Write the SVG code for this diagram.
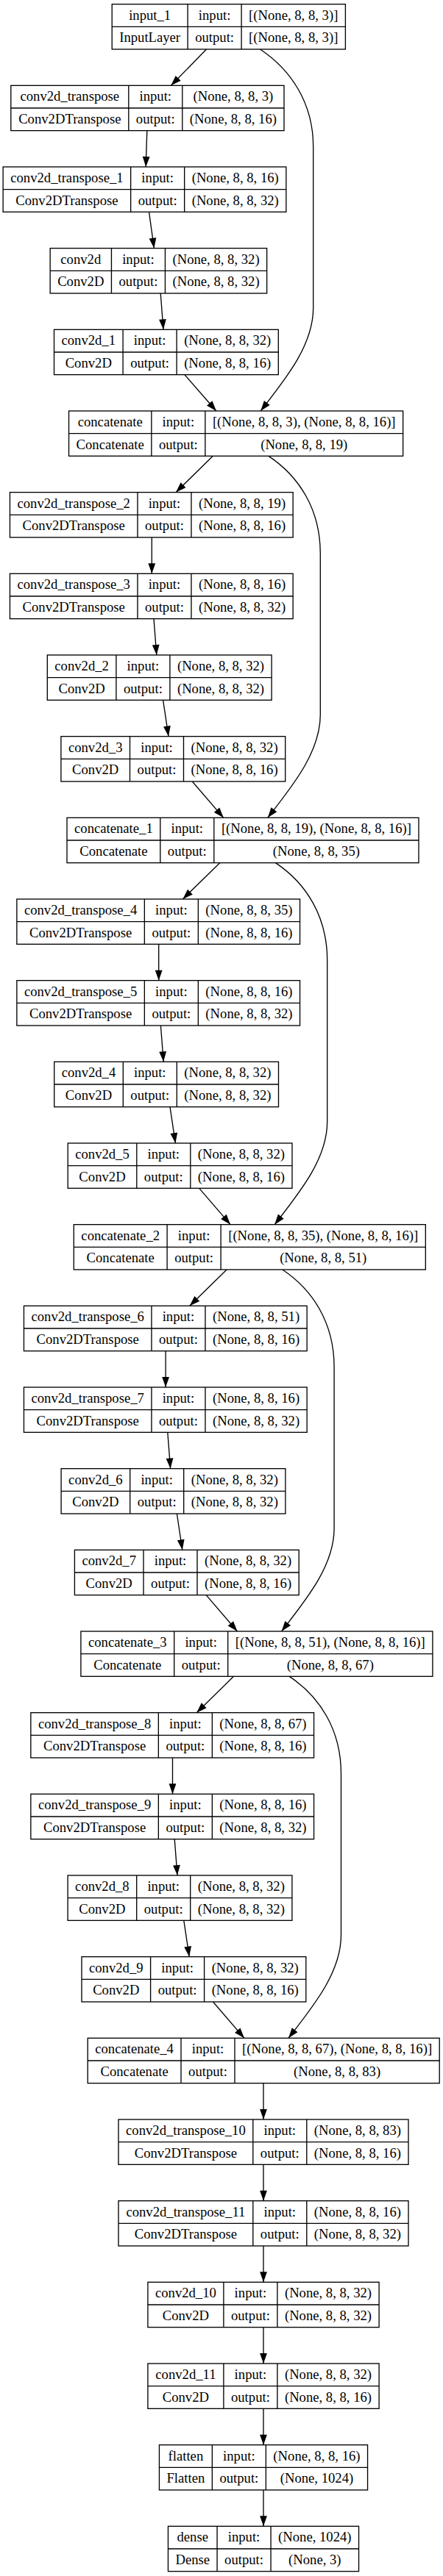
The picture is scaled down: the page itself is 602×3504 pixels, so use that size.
<svg xmlns="http://www.w3.org/2000/svg" width="602" height="3504" viewBox="0 0 602 3504">
<style>
.b{fill:#fff;stroke:#000;stroke-width:1.33}
.g{fill:none;stroke:#000;stroke-width:1.33}
text{font-family:"Liberation Serif","Times New Roman",serif;font-size:18.67px;text-anchor:middle;fill:#000}
.e{fill:none;stroke:#000;stroke-width:1.33;marker-end:url(#arr)}
</style>
<defs>
<marker id="arr" markerUnits="userSpaceOnUse" markerWidth="14" markerHeight="10" refX="13.33" refY="4.67" orient="auto" viewBox="0 0 13.33 9.33" overflow="visible"><path d="M0,0 L13.33,4.67 L0,9.33 z" fill="#000"/></marker>
</defs>
<rect width="602" height="3504" fill="#fff"/>
<g id="connectors">
<path class="e" d="M280.5,67 L232.4,116.33"/>
<path class="e" d="M199.8,177.67 L198.2,227"/>
<path class="e" d="M202.5,288.33 L209.4,337.67"/>
<path class="e" d="M218.2,399 L222,448.33"/>
<path class="e" d="M250.9,509.67 L293.9,559"/>
<path class="e" d="M353.5,67 C395,94.7 425.7,139.7 425.7,199.7 L425.7,419 C425.7,469 389.2,514 354.2,559"/>
<path class="e" d="M289.3,620.33 L239,669.67"/>
<path class="e" d="M206.3,731 L206.3,780.33"/>
<path class="e" d="M209,841.67 L212.8,891"/>
<path class="e" d="M221.6,952.33 L229,1001.67"/>
<path class="e" d="M261.3,1063 L303.7,1112.33"/>
<path class="e" d="M365,620.33 C406.5,648 435.3,693 435.3,753 L435.3,972.33 C435.3,1022.33 398.8,1067.33 363.8,1112.33"/>
<path class="e" d="M298.7,1173.67 L248.4,1223"/>
<path class="e" d="M215.7,1284.33 L215.7,1333.67"/>
<path class="e" d="M218.4,1395 L222.2,1444.33"/>
<path class="e" d="M231,1505.67 L238.4,1555"/>
<path class="e" d="M270.7,1616.33 L313.1,1665.67"/>
<path class="e" d="M374.4,1173.67 C415.9,1201.37 444.7,1246.37 444.7,1306.37 L444.7,1525.67 C444.7,1575.67 408.2,1620.67 373.2,1665.67"/>
<path class="e" d="M308.1,1727 L257.8,1776.33"/>
<path class="e" d="M225.1,1837.67 L225.1,1887"/>
<path class="e" d="M227.8,1948.33 L231.6,1997.67"/>
<path class="e" d="M240.4,2059 L247.8,2108.33"/>
<path class="e" d="M280.1,2169.67 L322.5,2219"/>
<path class="e" d="M383.8,1727 C425.3,1754.7 454.1,1799.7 454.1,1859.7 L454.1,2079 C454.1,2129 417.6,2174 382.6,2219"/>
<path class="e" d="M317.5,2280.33 L267.2,2329.67"/>
<path class="e" d="M234.5,2391 L234.5,2440.33"/>
<path class="e" d="M237.2,2501.67 L241,2551"/>
<path class="e" d="M249.8,2612.33 L257.2,2661.67"/>
<path class="e" d="M289.5,2723 L331.9,2772.33"/>
<path class="e" d="M393.2,2280.33 C434.7,2308 463.5,2353 463.5,2413 L463.5,2632.33 C463.5,2682.33 427,2727.33 392,2772.33"/>
<path class="e" d="M358,2833.67 L358,2883"/>
<path class="e" d="M358,2944.33 L358,2993.67"/>
<path class="e" d="M358,3055 L358,3104.33"/>
<path class="e" d="M358,3165.67 L358,3215"/>
<path class="e" d="M358,3276.33 L358,3325.67"/>
<path class="e" d="M358,3387 L358,3436.33"/>
</g>
<g id="input_1" transform="translate(152.2,5.67)"><rect class="b" width="317.2" height="61.33"/><path class="g" d="M0,30.67H317.2M102.9,0V61.33M175.9,0V61.33"/><text x="51.45" y="21">input_1</text><text x="139.4" y="21">input:</text><text x="246.55" y="21">[(None, 8, 8, 3)]</text><text x="51.45" y="51.67">InputLayer</text><text x="139.4" y="51.67">output:</text><text x="246.55" y="51.67">[(None, 8, 8, 3)]</text></g>
<g id="conv2d_transpose" transform="translate(14.8,116.33)"><rect class="b" width="371.2" height="61.33"/><path class="g" d="M0,30.67H371.2M160,0V61.33M233,0V61.33"/><text x="80" y="21">conv2d_transpose</text><text x="196.5" y="21">input:</text><text x="302.1" y="21">(None, 8, 8, 3)</text><text x="80" y="51.67">Conv2DTranspose</text><text x="196.5" y="51.67">output:</text><text x="302.1" y="51.67">(None, 8, 8, 16)</text></g>
<g id="conv2d_transpose_1" transform="translate(4.15,227)"><rect class="b" width="384.7" height="61.33"/><path class="g" d="M0,30.67H384.7M173.5,0V61.33M246.5,0V61.33"/><text x="86.75" y="21">conv2d_transpose_1</text><text x="210" y="21">input:</text><text x="315.6" y="21">(None, 8, 8, 16)</text><text x="86.75" y="51.67">Conv2DTranspose</text><text x="210" y="51.67">output:</text><text x="315.6" y="51.67">(None, 8, 8, 32)</text></g>
<g id="conv2d" transform="translate(68.15,337.67)"><rect class="b" width="294.5" height="61.33"/><path class="g" d="M0,30.67H294.5M83.3,0V61.33M156.3,0V61.33"/><text x="41.65" y="21">conv2d</text><text x="119.8" y="21">input:</text><text x="225.4" y="21">(None, 8, 8, 32)</text><text x="41.65" y="51.67">Conv2D</text><text x="119.8" y="51.67">output:</text><text x="225.4" y="51.67">(None, 8, 8, 32)</text></g>
<g id="conv2d_1" transform="translate(73.5,448.33)"><rect class="b" width="304.8" height="61.33"/><path class="g" d="M0,30.67H304.8M93.6,0V61.33M166.6,0V61.33"/><text x="46.8" y="21">conv2d_1</text><text x="130.1" y="21">input:</text><text x="235.7" y="21">(None, 8, 8, 32)</text><text x="46.8" y="51.67">Conv2D</text><text x="130.1" y="51.67">output:</text><text x="235.7" y="51.67">(None, 8, 8, 16)</text></g>
<g id="concatenate" transform="translate(93.55,559)"><rect class="b" width="454.1" height="61.33"/><path class="g" d="M0,30.67H454.1M112.3,0V61.33M185.3,0V61.33"/><text x="56.15" y="21">concatenate</text><text x="148.8" y="21">input:</text><text x="319.7" y="21">[(None, 8, 8, 3), (None, 8, 8, 16)]</text><text x="56.15" y="51.67">Concatenate</text><text x="148.8" y="51.67">output:</text><text x="319.7" y="51.67">(None, 8, 8, 19)</text></g>
<g id="conv2d_transpose_2" transform="translate(13.45,669.67)"><rect class="b" width="384.7" height="61.33"/><path class="g" d="M0,30.67H384.7M173.5,0V61.33M246.5,0V61.33"/><text x="86.75" y="21">conv2d_transpose_2</text><text x="210" y="21">input:</text><text x="315.6" y="21">(None, 8, 8, 19)</text><text x="86.75" y="51.67">Conv2DTranspose</text><text x="210" y="51.67">output:</text><text x="315.6" y="51.67">(None, 8, 8, 16)</text></g>
<g id="conv2d_transpose_3" transform="translate(13.45,780.33)"><rect class="b" width="384.7" height="61.33"/><path class="g" d="M0,30.67H384.7M173.5,0V61.33M246.5,0V61.33"/><text x="86.75" y="21">conv2d_transpose_3</text><text x="210" y="21">input:</text><text x="315.6" y="21">(None, 8, 8, 16)</text><text x="86.75" y="51.67">Conv2DTranspose</text><text x="210" y="51.67">output:</text><text x="315.6" y="51.67">(None, 8, 8, 32)</text></g>
<g id="conv2d_2" transform="translate(64.3,891)"><rect class="b" width="304.8" height="61.33"/><path class="g" d="M0,30.67H304.8M93.6,0V61.33M166.6,0V61.33"/><text x="46.8" y="21">conv2d_2</text><text x="130.1" y="21">input:</text><text x="235.7" y="21">(None, 8, 8, 32)</text><text x="46.8" y="51.67">Conv2D</text><text x="130.1" y="51.67">output:</text><text x="235.7" y="51.67">(None, 8, 8, 32)</text></g>
<g id="conv2d_3" transform="translate(82.9,1001.67)"><rect class="b" width="304.8" height="61.33"/><path class="g" d="M0,30.67H304.8M93.6,0V61.33M166.6,0V61.33"/><text x="46.8" y="21">conv2d_3</text><text x="130.1" y="21">input:</text><text x="235.7" y="21">(None, 8, 8, 32)</text><text x="46.8" y="51.67">Conv2D</text><text x="130.1" y="51.67">output:</text><text x="235.7" y="51.67">(None, 8, 8, 16)</text></g>
<g id="concatenate_1" transform="translate(91,1112.33)"><rect class="b" width="478" height="61.33"/><path class="g" d="M0,30.67H478M126.8,0V61.33M199.8,0V61.33"/><text x="63.4" y="21">concatenate_1</text><text x="163.3" y="21">input:</text><text x="338.9" y="21">[(None, 8, 8, 19), (None, 8, 8, 16)]</text><text x="63.4" y="51.67">Concatenate</text><text x="163.3" y="51.67">output:</text><text x="338.9" y="51.67">(None, 8, 8, 35)</text></g>
<g id="conv2d_transpose_4" transform="translate(22.85,1223)"><rect class="b" width="384.7" height="61.33"/><path class="g" d="M0,30.67H384.7M173.5,0V61.33M246.5,0V61.33"/><text x="86.75" y="21">conv2d_transpose_4</text><text x="210" y="21">input:</text><text x="315.6" y="21">(None, 8, 8, 35)</text><text x="86.75" y="51.67">Conv2DTranspose</text><text x="210" y="51.67">output:</text><text x="315.6" y="51.67">(None, 8, 8, 16)</text></g>
<g id="conv2d_transpose_5" transform="translate(22.85,1333.67)"><rect class="b" width="384.7" height="61.33"/><path class="g" d="M0,30.67H384.7M173.5,0V61.33M246.5,0V61.33"/><text x="86.75" y="21">conv2d_transpose_5</text><text x="210" y="21">input:</text><text x="315.6" y="21">(None, 8, 8, 16)</text><text x="86.75" y="51.67">Conv2DTranspose</text><text x="210" y="51.67">output:</text><text x="315.6" y="51.67">(None, 8, 8, 32)</text></g>
<g id="conv2d_4" transform="translate(73.7,1444.33)"><rect class="b" width="304.8" height="61.33"/><path class="g" d="M0,30.67H304.8M93.6,0V61.33M166.6,0V61.33"/><text x="46.8" y="21">conv2d_4</text><text x="130.1" y="21">input:</text><text x="235.7" y="21">(None, 8, 8, 32)</text><text x="46.8" y="51.67">Conv2D</text><text x="130.1" y="51.67">output:</text><text x="235.7" y="51.67">(None, 8, 8, 32)</text></g>
<g id="conv2d_5" transform="translate(92.2,1555)"><rect class="b" width="304.8" height="61.33"/><path class="g" d="M0,30.67H304.8M93.6,0V61.33M166.6,0V61.33"/><text x="46.8" y="21">conv2d_5</text><text x="130.1" y="21">input:</text><text x="235.7" y="21">(None, 8, 8, 32)</text><text x="46.8" y="51.67">Conv2D</text><text x="130.1" y="51.67">output:</text><text x="235.7" y="51.67">(None, 8, 8, 16)</text></g>
<g id="concatenate_2" transform="translate(100.3,1665.67)"><rect class="b" width="478" height="61.33"/><path class="g" d="M0,30.67H478M126.8,0V61.33M199.8,0V61.33"/><text x="63.4" y="21">concatenate_2</text><text x="163.3" y="21">input:</text><text x="338.9" y="21">[(None, 8, 8, 35), (None, 8, 8, 16)]</text><text x="63.4" y="51.67">Concatenate</text><text x="163.3" y="51.67">output:</text><text x="338.9" y="51.67">(None, 8, 8, 51)</text></g>
<g id="conv2d_transpose_6" transform="translate(32.45,1776.33)"><rect class="b" width="384.7" height="61.33"/><path class="g" d="M0,30.67H384.7M173.5,0V61.33M246.5,0V61.33"/><text x="86.75" y="21">conv2d_transpose_6</text><text x="210" y="21">input:</text><text x="315.6" y="21">(None, 8, 8, 51)</text><text x="86.75" y="51.67">Conv2DTranspose</text><text x="210" y="51.67">output:</text><text x="315.6" y="51.67">(None, 8, 8, 16)</text></g>
<g id="conv2d_transpose_7" transform="translate(32.45,1887)"><rect class="b" width="384.7" height="61.33"/><path class="g" d="M0,30.67H384.7M173.5,0V61.33M246.5,0V61.33"/><text x="86.75" y="21">conv2d_transpose_7</text><text x="210" y="21">input:</text><text x="315.6" y="21">(None, 8, 8, 16)</text><text x="86.75" y="51.67">Conv2DTranspose</text><text x="210" y="51.67">output:</text><text x="315.6" y="51.67">(None, 8, 8, 32)</text></g>
<g id="conv2d_6" transform="translate(83.1,1997.67)"><rect class="b" width="304.8" height="61.33"/><path class="g" d="M0,30.67H304.8M93.6,0V61.33M166.6,0V61.33"/><text x="46.8" y="21">conv2d_6</text><text x="130.1" y="21">input:</text><text x="235.7" y="21">(None, 8, 8, 32)</text><text x="46.8" y="51.67">Conv2D</text><text x="130.1" y="51.67">output:</text><text x="235.7" y="51.67">(None, 8, 8, 32)</text></g>
<g id="conv2d_7" transform="translate(101.4,2108.33)"><rect class="b" width="304.8" height="61.33"/><path class="g" d="M0,30.67H304.8M93.6,0V61.33M166.6,0V61.33"/><text x="46.8" y="21">conv2d_7</text><text x="130.1" y="21">input:</text><text x="235.7" y="21">(None, 8, 8, 32)</text><text x="46.8" y="51.67">Conv2D</text><text x="130.1" y="51.67">output:</text><text x="235.7" y="51.67">(None, 8, 8, 16)</text></g>
<g id="concatenate_3" transform="translate(109.9,2219)"><rect class="b" width="478" height="61.33"/><path class="g" d="M0,30.67H478M126.8,0V61.33M199.8,0V61.33"/><text x="63.4" y="21">concatenate_3</text><text x="163.3" y="21">input:</text><text x="338.9" y="21">[(None, 8, 8, 51), (None, 8, 8, 16)]</text><text x="63.4" y="51.67">Concatenate</text><text x="163.3" y="51.67">output:</text><text x="338.9" y="51.67">(None, 8, 8, 67)</text></g>
<g id="conv2d_transpose_8" transform="translate(41.85,2329.67)"><rect class="b" width="384.7" height="61.33"/><path class="g" d="M0,30.67H384.7M173.5,0V61.33M246.5,0V61.33"/><text x="86.75" y="21">conv2d_transpose_8</text><text x="210" y="21">input:</text><text x="315.6" y="21">(None, 8, 8, 67)</text><text x="86.75" y="51.67">Conv2DTranspose</text><text x="210" y="51.67">output:</text><text x="315.6" y="51.67">(None, 8, 8, 16)</text></g>
<g id="conv2d_transpose_9" transform="translate(41.85,2440.33)"><rect class="b" width="384.7" height="61.33"/><path class="g" d="M0,30.67H384.7M173.5,0V61.33M246.5,0V61.33"/><text x="86.75" y="21">conv2d_transpose_9</text><text x="210" y="21">input:</text><text x="315.6" y="21">(None, 8, 8, 16)</text><text x="86.75" y="51.67">Conv2DTranspose</text><text x="210" y="51.67">output:</text><text x="315.6" y="51.67">(None, 8, 8, 32)</text></g>
<g id="conv2d_8" transform="translate(92.1,2551)"><rect class="b" width="304.8" height="61.33"/><path class="g" d="M0,30.67H304.8M93.6,0V61.33M166.6,0V61.33"/><text x="46.8" y="21">conv2d_8</text><text x="130.1" y="21">input:</text><text x="235.7" y="21">(None, 8, 8, 32)</text><text x="46.8" y="51.67">Conv2D</text><text x="130.1" y="51.67">output:</text><text x="235.7" y="51.67">(None, 8, 8, 32)</text></g>
<g id="conv2d_9" transform="translate(111,2661.67)"><rect class="b" width="304.8" height="61.33"/><path class="g" d="M0,30.67H304.8M93.6,0V61.33M166.6,0V61.33"/><text x="46.8" y="21">conv2d_9</text><text x="130.1" y="21">input:</text><text x="235.7" y="21">(None, 8, 8, 32)</text><text x="46.8" y="51.67">Conv2D</text><text x="130.1" y="51.67">output:</text><text x="235.7" y="51.67">(None, 8, 8, 16)</text></g>
<g id="concatenate_4" transform="translate(119.2,2772.33)"><rect class="b" width="478" height="61.33"/><path class="g" d="M0,30.67H478M126.8,0V61.33M199.8,0V61.33"/><text x="63.4" y="21">concatenate_4</text><text x="163.3" y="21">input:</text><text x="338.9" y="21">[(None, 8, 8, 67), (None, 8, 8, 16)]</text><text x="63.4" y="51.67">Concatenate</text><text x="163.3" y="51.67">output:</text><text x="338.9" y="51.67">(None, 8, 8, 83)</text></g>
<g id="conv2d_transpose_10" transform="translate(161,2883)"><rect class="b" width="394" height="61.33"/><path class="g" d="M0,30.67H394M182.8,0V61.33M255.8,0V61.33"/><text x="91.4" y="21">conv2d_transpose_10</text><text x="219.3" y="21">input:</text><text x="324.9" y="21">(None, 8, 8, 83)</text><text x="91.4" y="51.67">Conv2DTranspose</text><text x="219.3" y="51.67">output:</text><text x="324.9" y="51.67">(None, 8, 8, 16)</text></g>
<g id="conv2d_transpose_11" transform="translate(161,2993.67)"><rect class="b" width="394" height="61.33"/><path class="g" d="M0,30.67H394M182.8,0V61.33M255.8,0V61.33"/><text x="91.4" y="21">conv2d_transpose_11</text><text x="219.3" y="21">input:</text><text x="324.9" y="21">(None, 8, 8, 16)</text><text x="91.4" y="51.67">Conv2DTranspose</text><text x="219.3" y="51.67">output:</text><text x="324.9" y="51.67">(None, 8, 8, 32)</text></g>
<g id="conv2d_10" transform="translate(200.9,3104.33)"><rect class="b" width="314.2" height="61.33"/><path class="g" d="M0,30.67H314.2M103,0V61.33M176,0V61.33"/><text x="51.5" y="21">conv2d_10</text><text x="139.5" y="21">input:</text><text x="245.1" y="21">(None, 8, 8, 32)</text><text x="51.5" y="51.67">Conv2D</text><text x="139.5" y="51.67">output:</text><text x="245.1" y="51.67">(None, 8, 8, 32)</text></g>
<g id="conv2d_11" transform="translate(200.9,3215)"><rect class="b" width="314.2" height="61.33"/><path class="g" d="M0,30.67H314.2M103,0V61.33M176,0V61.33"/><text x="51.5" y="21">conv2d_11</text><text x="139.5" y="21">input:</text><text x="245.1" y="21">(None, 8, 8, 32)</text><text x="51.5" y="51.67">Conv2D</text><text x="139.5" y="51.67">output:</text><text x="245.1" y="51.67">(None, 8, 8, 16)</text></g>
<g id="flatten" transform="translate(216.45,3325.67)"><rect class="b" width="283.1" height="61.33"/><path class="g" d="M0,30.67H283.1M71.9,0V61.33M144.9,0V61.33"/><text x="35.95" y="21">flatten</text><text x="108.4" y="21">input:</text><text x="214" y="21">(None, 8, 8, 16)</text><text x="35.95" y="51.67">Flatten</text><text x="108.4" y="51.67">output:</text><text x="214" y="51.67">(None, 1024)</text></g>
<g id="dense" transform="translate(228.45,3436.33)"><rect class="b" width="259.1" height="61.33"/><path class="g" d="M0,30.67H259.1M66.6,0V61.33M139.6,0V61.33"/><text x="33.3" y="21">dense</text><text x="103.1" y="21">input:</text><text x="199.35" y="21">(None, 1024)</text><text x="33.3" y="51.67">Dense</text><text x="103.1" y="51.67">output:</text><text x="199.35" y="51.67">(None, 3)</text></g>
</svg>
